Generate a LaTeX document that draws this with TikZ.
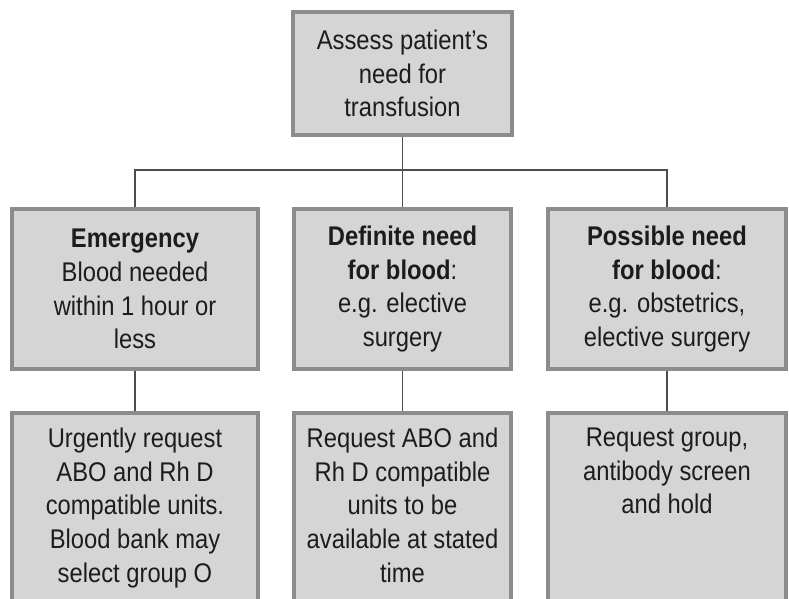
\documentclass[tikz,border=0pt]{standalone}
\usepackage{fontspec}
\setmainfont{Liberation Sans}[FakeStretch=0.88]
\usepackage{tikz}
\definecolor{ink}{HTML}{1C1C1C}
\definecolor{frame}{HTML}{8C8C8C}
\definecolor{panel}{HTML}{D5D5D5}
\definecolor{wire}{HTML}{4D4D4D}
\tikzset{
  box/.style={draw=frame, fill=panel, line width=4pt, text=ink, align=center,
    inner xsep=2pt, font=\fontsize{27}{33.7}\selectfont},
  midbox/.style={box, minimum height=160pt},
  lowbox/.style={box, anchor=north, inner ysep=15pt, text depth=260pt},
  link/.style={draw=wire, line width=1.6pt},
}
\begin{document}
\begin{tikzpicture}[x=1pt,y=1pt]
  \useasboundingbox (0,0) rectangle (789,-599);
  \clip (0,0) rectangle (789,-599);
  % top of the tree
  \node[box, minimum width=219pt, minimum height=123pt] (assess) at (402.5,-73.5)
    {Assess patient’s\\need for\\transfusion};
  % level of need
  \node[midbox, minimum width=246pt] (emerg) at (135,-289)
    {\textbf{Emergency}\\Blood needed\\within 1 hour or\\less};
  \node[midbox, minimum width=217pt] (definite) at (402.5,-289)
    {\textbf{Definite need}\\\textbf{for blood}:\\e.g. elective\\surgery};
  \node[midbox, minimum width=238pt] (possible) at (667,-289)
    {\textbf{Possible need}\\\textbf{for blood}:\\e.g. obstetrics,\\elective surgery};
  % what to request
  \node[lowbox, minimum width=246pt] (urgent) at (135,-411)
    {Urgently request\\ABO and Rh D\\compatible units.\\Blood bank may\\select group O};
  \node[lowbox, minimum width=217pt] (request) at (402.5,-411)
    {Request ABO and\\Rh D compatible\\units to be\\available at stated\\time};
  \node[lowbox, minimum width=238pt] (hold) at (667,-411)
    {Request group,\\antibody screen\\and hold};
  % connectors
  \coordinate (bar) at (0,-170);
  \draw[link] (assess.south) -- (definite.north);
  \draw[link] (emerg.north) -- (emerg.north |- bar) -- (possible.north |- bar) -- (possible.north);
  \draw[link] (emerg.south) -- (urgent.north);
  \draw[link] (definite.south) -- (request.north);
  \draw[link] (possible.south) -- (hold.north);
\end{tikzpicture}
\end{document}
